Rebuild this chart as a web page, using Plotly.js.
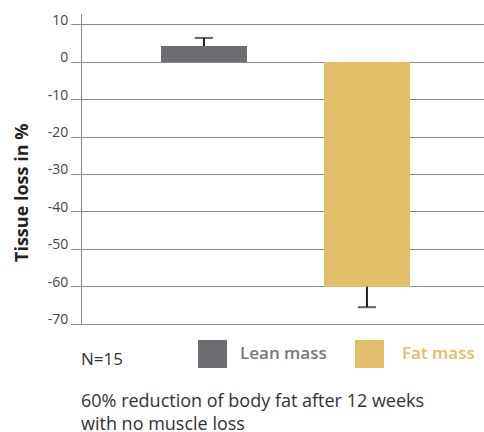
<!DOCTYPE html>
<html>
<head>
<meta charset="utf-8">
<script src="https://cdn.plot.ly/plotly-3.0.1.min.js"></script>
<style>html,body{margin:0;padding:0;background:#fff;}#chart{width:484px;height:432px;}</style>
</head>
<body>
<div id="chart"></div>
<script>
// ---- data ----
const categories = ["Lean mass", "Fat mass"];
const values = [4.3, -60];
const errPlus = [2.2, 0];
const errMinus = [0, 5.5];
const seriesColors = ["#6c6d70", "#e1be67"];
const legendTextColors = ["#77787b", "#e1be67"];
const yTicks = [10, 0, -10, -20, -30, -40, -50, -60, -70];
const yTickText = ["10", "0", "-10", "-20", "-30", "-40", "-50", "-60", "-70"];
const yTitle = "Tissue loss in %";
const nLabel = "N=15";
const footnote = ["60% reduction of body fat after 12 weeks", "with no muscle loss"];

const FONT = "Open Sans, Lato, sans-serif";
const ERR_COLOR = "#231f20";

const barTraces = categories.map((c, i) => ({
  type: "bar",
  x: [c],
  y: [values[i]],
  name: c,
  width: 0.528,
  marker: {color: seriesColors[i], line: {width: 0}},
  showlegend: false,
  hoverinfo: "skip"
}));

// one-sided error bars: stem from bar end to error end, cap only at the far end
const errTraces = categories.map((c, i) => ({
  type: "scatter",
  mode: "lines+markers",
  x: [c, c],
  y: [values[i], values[i] + errPlus[i] - errMinus[i]],
  line: {color: ERR_COLOR, width: 2},
  marker: {symbol: "line-ew-open", size: [0, 13], color: ERR_COLOR, line: {color: ERR_COLOR, width: 2}},
  showlegend: false,
  hoverinfo: "skip",
  cliponaxis: false
}));

// legend boxes (paper coords)
const legBox = [[0.2886, 0.3607], [0.679, 0.7512]];
const legText = [0.388, 0.791];
const shapes = categories.map((c, i) => ({
  type: "rect", xref: "paper", yref: "paper",
  x0: legBox[i][0], x1: legBox[i][1], y0: -0.1419, y1: -0.0516,
  fillcolor: seriesColors[i], line: {width: 0}
}));

const annotations = categories.map((c, i) => ({
  xref: "paper", yref: "paper", x: legText[i], y: -0.0935,
  xanchor: "left", yanchor: "middle", showarrow: false,
  text: c, font: {family: FONT, size: 17, color: legendTextColors[i], weight: 600}
}));
annotations.push({
  xref: "paper", yref: "paper", x: -0.008, y: -0.1097, xanchor: "left", yanchor: "middle",
  showarrow: false, text: nLabel, font: {family: FONT, size: 17, color: "#333"}
});
annotations.push({
  xref: "paper", yref: "paper", x: -0.008, y: -0.281, xanchor: "left", yanchor: "middle",
  align: "left", showarrow: false, text: footnote.join("<br>"),
  font: {family: FONT, size: 18, color: "#333"}
});
annotations.push({
  xref: "paper", yref: "paper", x: -0.1517, y: 0.4226, xanchor: "center", yanchor: "middle",
  textangle: -90, showarrow: false, text: "<b>" + yTitle + "</b>",
  font: {family: FONT, size: 18, color: "#222"}
});

const layout = {
  width: 484, height: 432,
  margin: {l: 82, r: 0, t: 14, b: 108, pad: 0},
  paper_bgcolor: "#fff", plot_bgcolor: "#fff",
  showlegend: false,
  bargap: 0,
  xaxis: {
    type: "category", range: [-0.748, 1.718],
    showticklabels: false, ticks: "", showgrid: false, zeroline: false,
    showline: true, linecolor: "#888", linewidth: 1, fixedrange: true
  },
  yaxis: {
    range: [-70, 12.9],
    tickvals: yTicks, ticktext: yTickText,
    ticks: "outside", ticklen: 10, tickcolor: "#888", tickwidth: 1,
    showgrid: true, gridcolor: "#888", gridwidth: 1,
    zeroline: false,
    showline: true, linecolor: "#888", linewidth: 1,
    ticklabelshift: -5, ticklabelstandoff: 0,
    tickfont: {family: FONT, size: 14, color: "#444"},
    fixedrange: true
  },
  shapes: shapes,
  annotations: annotations
};

Plotly.newPlot("chart", barTraces.concat(errTraces), layout, {displayModeBar: false, staticPlot: true});
</script>
</body>
</html>
